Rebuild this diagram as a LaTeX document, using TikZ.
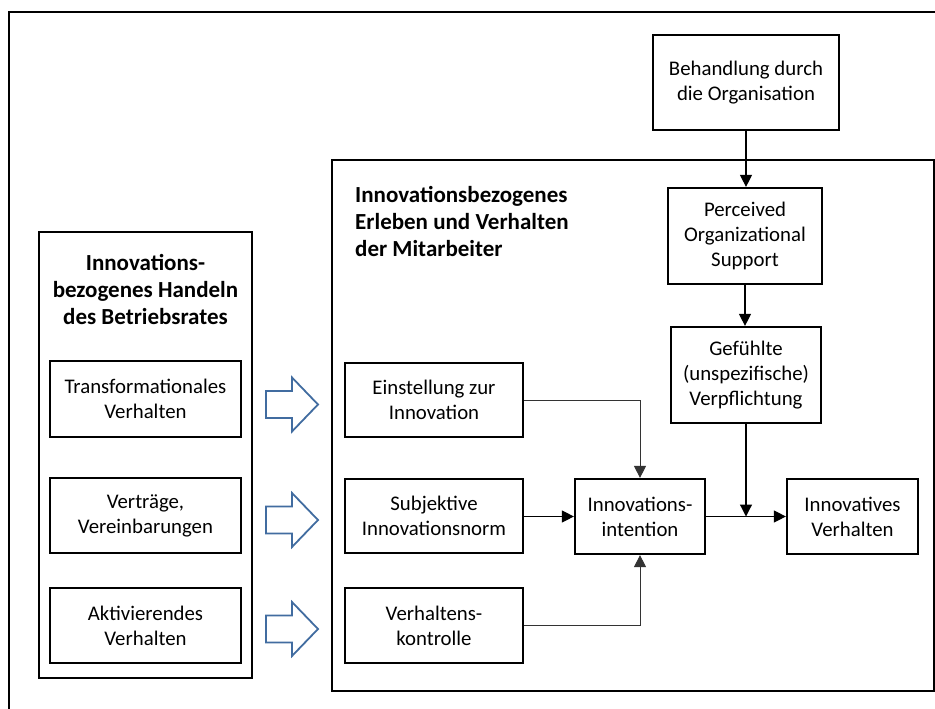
\documentclass[tikz,border=0pt]{standalone}
\usepackage{fontspec}
\setmainfont{Carlito}
\usetikzlibrary{arrows.meta}
\definecolor{arrowblue}{RGB}{65,108,160}
\begin{document}
\begin{tikzpicture}[x=1pt,y=-1pt,
  box/.style={draw,line width=2.2pt,align=center,inner sep=0pt,font=\fontsize{20.8}{25}\selectfont},
  frame/.style={draw,line width=1.8pt},
  conn/.style={line width=1.2pt,-{Triangle[length=12pt,width=12pt]}},
  thinconn/.style={line width=0.9pt,draw=black!80,-{Triangle[length=12pt,width=12pt]}},
  blockarrow/.style={draw=arrowblue,line width=1.8pt,line join=miter},
  title/.style={font=\fontsize{23}{27}\selectfont\bfseries,inner sep=0pt}
]
\useasboundingbox (0,0) rectangle (935,709);
% outer frame (cut at right and bottom)
\draw[frame] (9,709) -- (9,12) -- (935,12);
% left container
\draw[frame] (39,232) rectangle (252,678);
\node[title,align=center] (ltitle) at (145.5,289.5) {Innovations-\\bezogenes Handeln\\des Betriebsrates};
% right container
\draw[frame] (332,160) rectangle (934,691);
\node[title,align=left,anchor=west] (rtitle) at (355,221) {Innovationsbezogenes\\Erleben und Verhalten\\der Mitarbeiter};

% left boxes
\node[box,minimum width=191pt,minimum height=76pt] (tra) at (145.5,399) {Transformationales\\Verhalten};
\node[box,minimum width=191pt,minimum height=75pt] (vtr) at (145.5,515.5) {Verträge,\\Vereinbarungen};
\node[box,minimum width=191pt,minimum height=75pt] (akt) at (145.5,625.5) {Aktivierendes\\Verhalten};

% block arrows
\foreach \c in {404.5,520,629}{
  \draw[blockarrow] (266,\c-13.5) -- (292,\c-13.5) -- (292,\c-27) -- (318,\c) -- (292,\c+27) -- (292,\c+13.5) -- (266,\c+13.5) -- cycle;
}

% right boxes
\node[box,minimum width=186pt,minimum height=95pt] (beh) at (746,82.5) {Behandlung durch\\die Organisation};
\node[box,minimum width=154pt,minimum height=96pt] (pos) at (745,236) {Perceived\\Organizational\\Support};
\node[box,minimum width=150pt,minimum height=96pt] (gef) at (746,375) {Gefühlte\\(unspezifische)\\Verpflichtung};
\node[box,minimum width=178pt,minimum height=74pt] (ein) at (434,400) {Einstellung zur\\Innovation};
\node[box,minimum width=178pt,minimum height=74pt] (sub) at (434,516) {Subjektive\\Innovationsnorm};
\node[box,minimum width=178pt,minimum height=75pt] (ver) at (434,625.5) {Verhaltens-\\kontrolle};
\node[box,minimum width=130pt,minimum height=75pt] (int) at (640,516.5) {Innovations-\\intention};
\node[box,minimum width=131pt,minimum height=75pt] (inn) at (852.5,516.5) {Innovatives\\Verhalten};

% connectors
\draw[conn] (beh.south) -- (beh.south |- pos.north);
\draw[conn] (pos.south) -- (pos.south |- gef.north);
\draw[conn] (gef.south) -- (gef.south |- int.east);
\draw[thinconn] (ein.east) -| (int.north);
\draw[thinconn] (ver.east) -| (int.south);
\draw[conn] (sub.east |- int.west) -- (int.west);
\draw[conn] (int.east) -- (inn.west);
\end{tikzpicture}
\end{document}
